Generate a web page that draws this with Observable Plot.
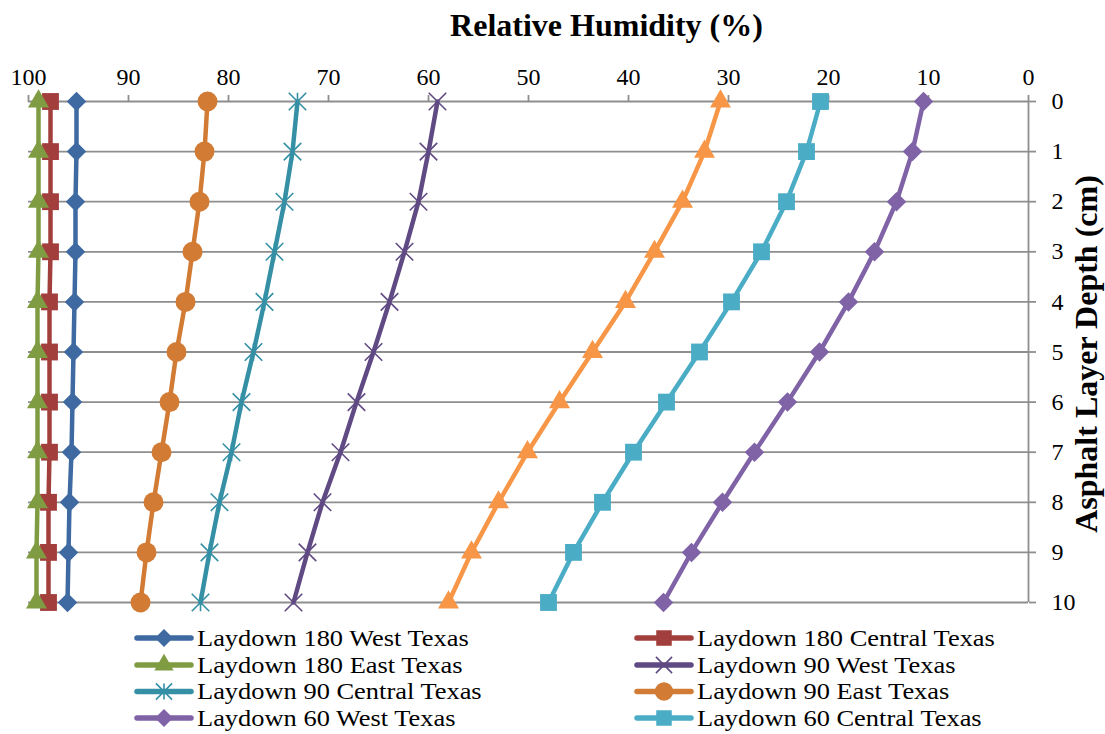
<!DOCTYPE html>
<html><head><meta charset="utf-8">
<script src="https://cdn.jsdelivr.net/npm/d3@7"></script>
<script src="https://cdn.jsdelivr.net/npm/@observablehq/plot@0.6"></script>
<style>
body{margin:0;background:#fff;}
#wrap{position:relative;width:1105px;height:734px;overflow:hidden;font-family:"Liberation Serif","Times New Roman",serif;}
#wrap svg{display:block;}
#legend{position:absolute;left:0;top:620px;}
</style></head><body><div id="wrap"></div>
<script>
// ---- data ----
const depths = [0, 1, 2, 3, 4, 5, 6, 7, 8, 9, 10];
const xTicks = [100, 90, 80, 70, 60, 50, 40, 30, 20, 10, 0];
const seriesNames = [
  "Laydown 180 West Texas", "Laydown 180 Central Texas", "Laydown 180 East Texas",
  "Laydown 90 West Texas", "Laydown 90 Central Texas", "Laydown 90 East Texas",
  "Laydown 60 West Texas", "Laydown 60 Central Texas", "Laydown 60 East Texas"
];
const l180West    = [95.2, 95.2, 95.3, 95.3, 95.4, 95.5, 95.6, 95.7, 95.9, 96.0, 96.1];
const l180Central = [97.8, 97.8, 97.8, 97.8, 97.9, 97.9, 97.9, 97.9, 98.0, 98.0, 98.0];
const l180East    = [99.0, 99.0, 99.0, 99.0, 99.1, 99.1, 99.1, 99.1, 99.1, 99.2, 99.2];
const l90West     = [59.1, 60.0, 61.0, 62.4, 63.9, 65.5, 67.2, 68.8, 70.6, 72.1, 73.5];
const l90Central  = [73.1, 73.6, 74.4, 75.4, 76.4, 77.5, 78.7, 79.7, 80.9, 81.9, 82.8];
const l90East     = [82.1, 82.4, 82.9, 83.6, 84.3, 85.2, 85.9, 86.7, 87.5, 88.2, 88.8];
const l60West     = [10.5, 11.6, 13.2, 15.4, 18.0, 20.9, 24.1, 27.4, 30.6, 33.7, 36.5];
const l60Central  = [20.8, 22.2, 24.2, 26.7, 29.7, 32.9, 36.2, 39.5, 42.6, 45.5, 48.0];
const l60East     = [30.8, 32.4, 34.6, 37.4, 40.3, 43.6, 46.9, 50.1, 53.0, 55.7, 58.0];
const seriesValues = [l180West, l180Central, l180East, l90West, l90Central, l90East, l60West, l60Central, l60East];
const legendNames = seriesNames.slice(0, 8);

// ---- styles ----
const colors = ["#3E6AA1", "#A23F3C", "#7F9C42", "#604A84", "#3590A6", "#D17B35", "#7F63A6", "#4BACC6", "#F79646"];
const excelStar = {draw(ctx, size) {
  const r = Math.sqrt(size) * 0.52;
  ctx.moveTo(-r, -r); ctx.lineTo(r, r);
  ctx.moveTo(-r, r); ctx.lineTo(r, -r);
  ctx.moveTo(0, -r); ctx.lineTo(0, r);
}};
const excelX = {draw(ctx, size) {
  const r = Math.sqrt(size) * 0.52;
  ctx.moveTo(-r, -r); ctx.lineTo(r, r);
  ctx.moveTo(-r, r); ctx.lineTo(r, -r);
}};
const markers = [
  {symbol: "diamond2", r: 8.8, filled: true},
  {symbol: "square", r: 9.5, filled: true},
  {symbol: "triangle", r: 7.8, filled: true},
  {symbol: excelX, r: 9.5, filled: false},
  {symbol: excelStar, r: 9.5, filled: false},
  {symbol: "circle", r: 10, filled: true},
  {symbol: "diamond2", r: 8.8, filled: true},
  {symbol: "square", r: 9.5, filled: true},
  {symbol: "triangle", r: 7.8, filled: true}
];

const rows = seriesValues.map((vals, i) => depths.map((d, j) => ({series: seriesNames[i], depth: d, value: vals[j]})));

const marks = [
  Plot.ruleY(depths, {stroke: "#8E8E8E", strokeWidth: 1.8}),
  Plot.ruleX([0], {stroke: "#8E8E8E", strokeWidth: 1.8}),
  Plot.axisX(xTicks, {anchor: "top", tickSize: 7, tickPadding: 10, tickFormat: "d", stroke: "#8E8E8E", strokeWidth: 1.8, fill: "black", fontSize: 24}),
  Plot.axisY(depths, {anchor: "right", tickSize: 7, tickPadding: 16, tickFormat: "d", stroke: "#8E8E8E", strokeWidth: 1.8, fill: "black", fontSize: 24}),
  Plot.text(["Relative Humidity (%)"], {text: d => d, frameAnchor: "top", dx: 78, dy: -66, lineAnchor: "bottom", fontSize: 32, fontWeight: "bold", fill: "black"}),
  Plot.text(["Asphalt Layer Depth (cm)"], {text: d => d, frameAnchor: "right", dx: 58, dy: 2, rotate: -90, textAnchor: "middle", lineAnchor: "middle", fontSize: 32, fontWeight: "bold", fill: "black"})
];
rows.forEach((data, i) => {
  const m = markers[i];
  marks.push(Plot.line(data, {x: "value", y: "depth", stroke: colors[i], strokeWidth: 4.5, strokeLinejoin: "round", strokeLinecap: "round"}));
  marks.push(Plot.dot(data, {x: "value", y: "depth", symbol: () => m.symbol, r: m.r,
    fill: m.filled ? colors[i] : "none", stroke: m.filled ? "none" : colors[i], strokeWidth: m.filled ? 0 : 1.6}));
});

const chart = Plot.plot({
  width: 1105, height: 620,
  marginTop: 101, marginBottom: 18, marginLeft: 28, marginRight: 77,
  style: {fontFamily: "'Liberation Serif', 'Times New Roman', serif", fontSize: "24px", color: "black", background: "white", overflow: "visible"},
  x: {domain: [100, 0], label: null},
  y: {domain: [0, 10], reverse: true, label: null},
  symbol: {type: "identity"},
  marks
});
const wrap = document.getElementById("wrap");
wrap.appendChild(chart);

// ---- legend ----
const lg = d3.create("svg").attr("id", "legend").attr("width", 1105).attr("height", 114)
  .style("font-family", "'Liberation Serif','Times New Roman',serif");
const colX = [135, 635];
const rowY = [18, 45, 71.5, 98];
const symMap = {diamond2: d3.symbolDiamond2, square: d3.symbolSquare, triangle: d3.symbolTriangle, circle: d3.symbolCircle};
legendNames.forEach((name, i) => {
  const col = i % 2, row = Math.floor(i / 2);
  const x0 = colX[col], cy = rowY[row];
  const g = lg.append("g");
  g.append("line").attr("x1", x0 + 2).attr("x2", x0 + 56).attr("y1", cy).attr("y2", cy)
    .attr("stroke", colors[i]).attr("stroke-width", 5.5).attr("stroke-linecap", "round");
  const m = markers[i];
  const path = d3.symbol().type(typeof m.symbol === "string" ? symMap[m.symbol] : m.symbol)
    .size(Math.PI * m.r * m.r * 0.85)();
  g.append("path").attr("d", path).attr("transform", `translate(${x0 + 29},${cy})`)
    .attr("fill", m.filled ? colors[i] : "none").attr("stroke", m.filled ? "none" : colors[i]).attr("stroke-width", 1.6);
  g.append("text").attr("transform", `translate(${x0 + 62},${cy + 7.5}) scale(1.15,1)`)
    .attr("font-size", 23).attr("fill", "black").text(name);
});
wrap.appendChild(lg.node());
</script>
</body></html>
